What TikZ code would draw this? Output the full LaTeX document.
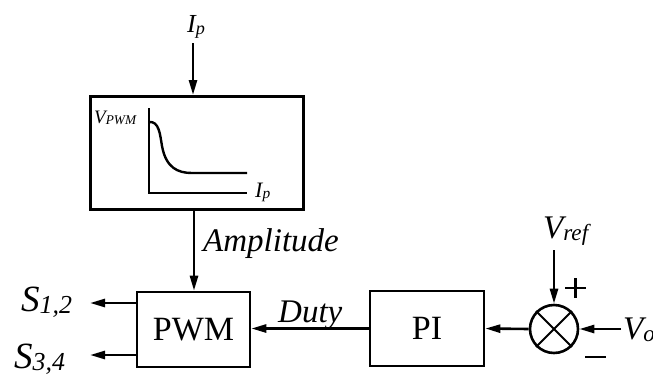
\documentclass[tikz,border=0pt]{standalone}
\usepackage{fontspec}
\setmainfont{LiberationSerif}[Extension=.ttf, UprightFont=*-Regular, ItalicFont=*-Italic, BoldFont=*-Bold]
\usetikzlibrary{arrows.meta, positioning}

% subscript, shrunk and lowered a little
\newcommand{\lsub}[1]{\raisebox{-0.08em}{\scalebox{0.7}{#1}}}

\begin{document}
\begin{tikzpicture}[
  x=1pt, y=-1pt,
  blk/.style={draw, line width=2.6pt},
  sig/.style={line width=2.6pt, -{Triangle[length=15pt, width=8pt]}},
  lbl/.style={inner sep=0pt, anchor=base west, font=\fontsize{33}{33}\selectfont\itshape},
]

  \useasboundingbox (0,0) rectangle (653,383);

  % ── Amplitude map block ──
  \node[blk, minimum width=213pt, minimum height=113pt, anchor=north west] (map) at (89,95) {};
  \draw[line width=2.4pt] (149,108) -- (149,193) -- (247,193);
  \draw[line width=2.4pt] (149,122) .. controls (159,121) and (160,134) .. (162,146)
    .. controls (166,168) and (178,173) .. (192,173) -- (247,173);
  \node[lbl, font=\fontsize{19}{19}\selectfont\itshape] (vpwm) at (94,123) {V\lsub{PWM}};
  \node[lbl, font=\fontsize{22}{22}\selectfont\itshape] (ipin) at (255,197) {I\lsub{p}};

  % ── Input current ──
  \node[lbl, font=\fontsize{26}{26}\selectfont\itshape] (ip) at (187,32) {I\lsub{p}};
  \coordinate (iptop) at (193,43);
  \draw[sig] (iptop) -- (iptop |- map.north);

  % ── PWM and PI blocks ──
  \node[blk, minimum width=113pt, minimum height=75pt, font=\fontsize{34}{34}\selectfont] (pwm) at (193.5,329.5) {PWM};
  \node[blk, minimum width=114pt, minimum height=75pt, font=\fontsize{34}{34}\selectfont] (pi) at (427,328.5) {PI};
  \draw[sig] (map.south -| pwm.north) ++(0.5,0) coordinate (ampfrom) -- (ampfrom |- pwm.north);
  \node[lbl] (amp) at (203,251) {Amplitude};

  % ── Gate outputs ──
  \coordinate (s1) at (90,303);
  \coordinate (s3) at (90,355);
  \draw[sig] (pwm.west |- s1) -- (s1);
  \draw[sig] (pwm.west |- s3) -- (s3);
  \node[lbl, font=\fontsize{37}{37}\selectfont\itshape] (s12) at (21,311) {S\lsub{1,2}};
  \node[lbl, font=\fontsize{37}{37}\selectfont\itshape] (s34) at (14,368) {S\lsub{3,4}};

  % ── Duty ──
  \draw[sig] (pi.west) -- (pi.west -| pwm.east);
  \node[lbl] (duty) at (278,322) {Duty};

  % ── Summing junction ──
  \node[draw, circle, line width=2.6pt, minimum size=48pt, inner sep=0pt] (sum) at (554,329) {};
  \draw[line width=2pt] (sum.north west) -- (sum.south east)
                        (sum.north east) -- (sum.south west);
  \draw[sig] (sum.west) -- (pi.east);
  \coordinate (vrefin) at (554,250);
  \draw[sig] (vrefin) -- (sum.north);
  \node[lbl] (vref) at (543,238) {V\lsub{ref}};
  \coordinate (voin) at (621,329);
  \draw[sig] (voin) -- (sum.east);
  \node[lbl] (vo) at (623,339) {V\lsub{o}};
  % signs
  \draw[line width=2.6pt] (565,288) -- (586,288) (575.5,278) -- (575.5,298);
  \draw[line width=2.6pt] (585,357) -- (606,357);

\end{tikzpicture}
\end{document}
